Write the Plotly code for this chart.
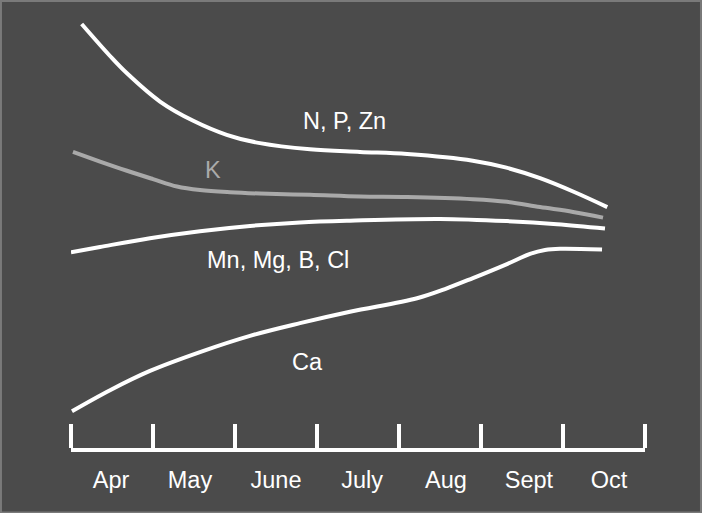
import plotly.graph_objects as go

# Month boundaries (tick marks) and labels
months = ["Apr", "May", "June", "July", "Aug", "Sept", "Oct"]
month_label_pos = [0.488, 1.451, 2.5, 3.549, 4.573, 5.585, 6.561]
month_boundaries = [0, 1, 2, 3, 4, 5, 6, 7]

# Relative nutrient requirement over the season (x in months from start of April)
npzn_x = [0.130, 0.476, 0.679, 1.085, 1.491, 1.899, 2.305, 2.915, 3.524, 4.10, 4.90, 5.31, 5.72, 6.13, 6.54]
npzn_y = [96.8, 89.5, 85.6, 79.1, 74.7, 71.5, 69.6, 68.2, 67.6, 67.1, 65.6, 64.0, 61.6, 58.5, 55.0]

k_x = [0.024, 0.354, 0.683, 1.0, 1.293, 1.573, 1.939, 2.305, 2.915, 3.524, 4.098, 4.902, 5.317, 5.720, 6.122, 6.488]
k_y = [67.6, 65.4, 63.3, 61.4, 59.7, 58.9, 58.4, 58.1, 57.8, 57.4, 57.3, 56.8, 56.2, 55.0, 53.9, 52.6]

mn_x = [0.0, 0.354, 0.963, 1.573, 2.183, 2.793, 3.402, 4.5, 5.317, 5.927, 6.512]
mn_y = [44.7, 45.9, 47.9, 49.5, 50.7, 51.5, 51.9, 52.3, 51.8, 51.1, 50.1]

ca_x = [0.012, 0.476, 0.963, 1.573, 2.183, 2.793, 3.402, 4.220, 4.561, 4.902, 5.317, 5.598, 5.780, 5.963, 6.476]
ca_y = [8.4, 13.2, 17.6, 21.9, 25.6, 28.5, 31.1, 34.2, 36.3, 38.8, 42.0, 44.3, 45.2, 45.5, 45.3]

# Series labels
label_text = ["N, P, Zn", "K", "Mn, Mg, B, Cl", "Ca"]
label_x = [3.34, 1.73, 2.52, 2.88]
label_y = [74.7, 63.5, 42.9, 19.6]
label_color = ["white", "#aaaaaa", "white", "white"]

BG = "#4b4b4b"
FONT = "Liberation Sans, Arial, sans-serif"
FS = 23.5

fig = go.Figure()
series = [
    (npzn_x, npzn_y, "white"),
    (k_x, k_y, "#a9a9a9"),
    (mn_x, mn_y, "white"),
    (ca_x, ca_y, "white"),
]
for xs, ys, col in series:
    fig.add_trace(go.Scatter(
        x=xs, y=ys, mode="lines",
        line=dict(color=col, width=4, shape="spline", smoothing=1.0),
        hoverinfo="skip", showlegend=False,
    ))

for t, x, y, c in zip(label_text, label_x, label_y, label_color):
    fig.add_annotation(x=x, y=y, text=t, showarrow=False,
                       font=dict(family=FONT, size=FS, color=c))

# Frame around the picture
fig.add_shape(type="rect", xref="paper", yref="paper",
              x0=-0.1220, x1=1.0975, y0=-0.1473, y1=1.0205,
              line=dict(color="#7a7a7a", width=2), layer="below")

fig.update_layout(
    width=702, height=513,
    margin=dict(l=71, r=57, t=10, b=65),
    paper_bgcolor=BG, plot_bgcolor=BG,
    font=dict(family=FONT, size=FS, color="white"),
    xaxis=dict(
        range=[0, 7], showgrid=False, zeroline=False,
        showline=True, linecolor="white", linewidth=4,
        tickvals=month_label_pos, ticktext=months, ticks="",
        ticklabelstandoff=8,
        tickfont=dict(family=FONT, size=FS, color="white"),
        minor=dict(tickvals=month_boundaries, ticks="inside", ticklen=24,
                   tickwidth=4, tickcolor="white", showgrid=False),
    ),
    yaxis=dict(range=[0, 100], visible=False),
)

fig.write_html(
    "out.html",
    config={"displayModeBar": False},
    post_script="document.body.style.margin='0';document.body.style.background='%s';" % BG,
)
